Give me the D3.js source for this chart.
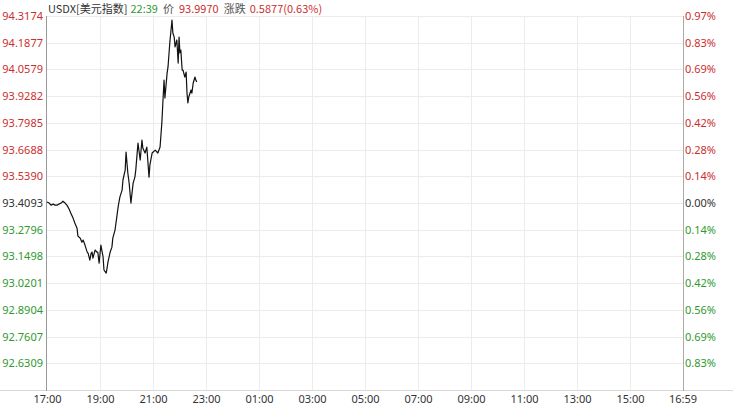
<!DOCTYPE html>
<html>
<head>
<meta charset="utf-8">
<script src="https://cdn.jsdelivr.net/npm/d3@7/dist/d3.min.js"></script>
<style>
  html, body { margin: 0; padding: 0; background: #fff; }
  svg { display: block; font-family: "Noto Sans CJK SC", "Noto Sans", sans-serif; }
</style>
</head>
<body>
<svg id="chart" width="733" height="407"></svg>
<script>
// ---- data ----
const times = ["17:00","17:05","17:09","17:14","17:18","17:23","17:27","17:32","17:36","17:41","17:45","17:50","17:54","17:59",
  "18:03","18:08","18:10","18:15","18:19","18:22","18:26","18:31","18:33","18:37","18:40","18:42","18:44","18:49","18:53","18:55","18:58",
  "19:02","19:07","19:09","19:14","19:16","19:18","19:23","19:27","19:29","19:34","19:38","19:41","19:45","19:50","19:52","19:57","19:59",
  "20:03","20:06","20:10","20:15","20:19","20:21","20:26","20:31","20:35","20:37","20:42","20:46","20:51","20:53","20:58",
  "21:05","21:11","21:16","21:20","21:23","21:25","21:27","21:32","21:34","21:38","21:43","21:45","21:48","21:50","21:54","21:57","21:59",
  "22:01","22:03","22:06","22:08","22:12","22:15","22:17","22:19","22:21","22:26","22:28","22:31","22:35","22:37","22:39"];
const prices = [93.414,93.409,93.399,93.404,93.399,93.399,93.404,93.409,93.418,93.409,93.399,93.380,93.360,93.336,
  93.312,93.287,93.249,93.239,93.219,93.229,93.205,93.171,93.166,93.132,93.166,93.171,93.142,93.181,93.171,93.171,93.117,
  93.205,93.147,93.084,93.069,93.093,93.122,93.171,93.195,93.239,93.278,93.341,93.390,93.438,93.472,93.521,93.569,93.657,
  93.555,93.506,93.409,93.506,93.535,93.569,93.700,93.618,93.715,93.676,93.652,93.681,93.535,93.594,93.652,
  93.666,93.652,93.681,93.798,93.924,94.006,93.919,94.041,94.070,94.186,94.298,94.235,94.215,94.167,94.201,94.089,94.215,
  94.138,94.152,94.055,94.055,94.021,94.045,93.943,93.895,93.924,93.958,93.943,93.992,94.021,94.006,93.997];
const priceTicks = [94.3174,94.1877,94.0579,93.9282,93.7985,93.6688,93.5390,93.4093,93.2796,93.1498,93.0201,92.8904,92.7607,92.6309];
const pctTicks = ["0.97%","0.83%","0.69%","0.56%","0.42%","0.28%","0.14%","0.00%","0.14%","0.28%","0.42%","0.56%","0.69%","0.83%"];
const timeTicks = ["17:00","19:00","21:00","23:00","01:00","03:00","05:00","07:00","09:00","11:00","13:00","15:00","16:59"];
const baseClose = 93.4093;
const yMin = 92.5012;
const header = {symbol:"USDX[美元指数]", time:"22:39", priceLabel:"价", price:"93.9970", chgLabel:"涨跌", chg:"0.5877(0.63%)"};

// ---- helpers ----
const RED = "#cc2f2f", GREEN = "#2f9a2f", DARK = "#333333";
function toMin(s){ const [h,m] = s.split(":").map(Number); return ((h*60+m) - 17*60 + 1440) % 1440; }
function colorFor(v){ return Math.abs(v-baseClose) < 1e-6 ? DARK : (v > baseClose ? RED : GREEN); }

const svg = d3.select("#chart");
const L = 47, R = 683, T = 16, B = 390;
const x = d3.scaleLinear().domain([0, 1440]).range([L, R]);
const y = d3.scaleLinear().domain([yMin, priceTicks[0]]).range([B, T]);

// horizontal grid
svg.append("g").selectAll("line").data(priceTicks).join("line")
  .attr("x1", L).attr("x2", R)
  .attr("y1", d => Math.round(y(d)) + 0.5).attr("y2", d => Math.round(y(d)) + 0.5)
  .attr("stroke", "#ececec").attr("stroke-width", 1);
// vertical grid
svg.append("g").selectAll("line").data(timeTicks.slice(1, -1)).join("line")
  .attr("x1", d => Math.round(x(toMin(d))) + 0.5).attr("x2", d => Math.round(x(toMin(d))) + 0.5)
  .attr("y1", T).attr("y2", B)
  .attr("stroke", "#ececec").attr("stroke-width", 1);

// borders
svg.append("line").attr("x1", 0).attr("x2", 733).attr("y1", B + 0.5).attr("y2", B + 0.5).attr("stroke", "#d8d8d8");
svg.append("line").attr("x1", L - 0.5).attr("x2", L - 0.5).attr("y1", T).attr("y2", B + 1).attr("stroke", "#999");
svg.append("line").attr("x1", R + 0.5).attr("x2", R + 0.5).attr("y1", T).attr("y2", B + 1).attr("stroke", "#aaa");

// left axis
const leftAxis = d3.axisLeft(y).tickValues(priceTicks).tickSize(0).tickPadding(3).tickFormat(d3.format(".4f"));
const gl = svg.append("g").attr("transform", `translate(${L - 1},0)`).call(leftAxis);
gl.select(".domain").remove();
gl.selectAll("text").attr("font-size", 11).attr("font-family", "'Noto Sans', sans-serif")
  .attr("fill", d => colorFor(d));

// right axis
const rightAxis = d3.axisRight(y).tickValues(priceTicks).tickSize(0).tickPadding(2)
  .tickFormat((d, i) => pctTicks[i]);
const gr = svg.append("g").attr("transform", `translate(${R},0)`).call(rightAxis);
gr.select(".domain").remove();
gr.selectAll("text").attr("font-size", 11).attr("font-family", "'Noto Sans', sans-serif")
  .attr("fill", d => colorFor(d));

// bottom axis
const xAxis = d3.axisBottom(x).tickValues(timeTicks.map(toMin)).tickSize(0).tickPadding(5)
  .tickFormat((d, i) => timeTicks[i]);
const gb = svg.append("g").attr("transform", `translate(0,${B})`).call(xAxis);
gb.select(".domain").remove();
gb.selectAll("text").attr("font-size", 11).attr("font-family", "'Noto Sans', sans-serif").attr("fill", DARK);

// price line
const pts = times.map((t, i) => [toMin(t), prices[i]]);
svg.append("path").datum(pts)
  .attr("fill", "none").attr("stroke", "#111").attr("stroke-width", 1.2).attr("stroke-linejoin", "round")
  .attr("d", d3.line().x(d => x(d[0])).y(d => y(d[1])));

// header
const ht = svg.append("text").attr("x", 48).attr("y", 13).attr("font-size", 11);
ht.append("tspan").attr("fill", DARK).text(header.symbol);
ht.append("tspan").attr("fill", GREEN).attr("dx", 3).text(header.time);
ht.append("tspan").attr("fill", "#555").attr("dx", 5).text(header.priceLabel);
ht.append("tspan").attr("fill", RED).attr("dx", 5).text(header.price);
ht.append("tspan").attr("fill", "#555").attr("dx", 5).text(header.chgLabel);
ht.append("tspan").attr("fill", RED).attr("dx", 4).text(header.chg);
</script>
</body>
</html>
